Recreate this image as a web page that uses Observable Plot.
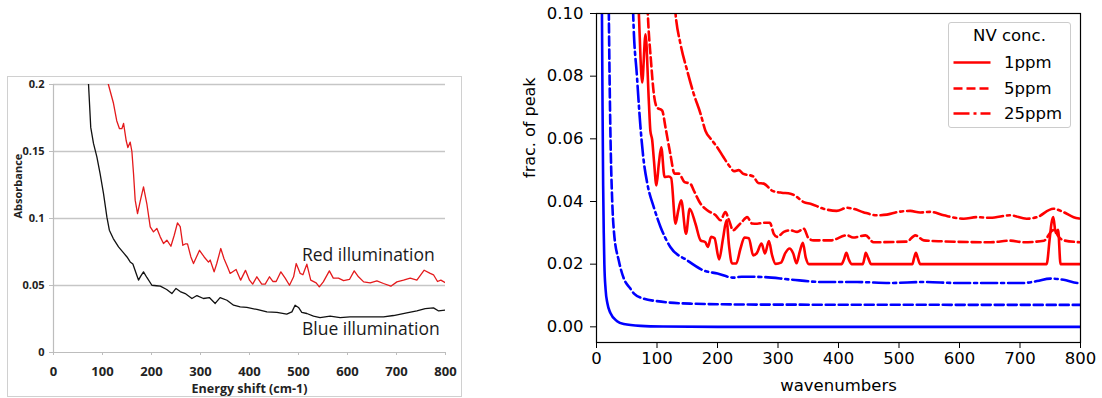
<!DOCTYPE html>
<html><head><meta charset="utf-8">
<script src="https://cdn.jsdelivr.net/npm/d3@7"></script>
<script src="https://cdn.jsdelivr.net/npm/@observablehq/plot@0.6"></script>
<style>
body{margin:0;background:#fff;}
#wrap{position:relative;width:1102px;height:398px;overflow:hidden;background:#fff;}
#left{position:absolute;left:7px;top:76px;width:453px;height:319px;border:1px solid #d0d0d0;}
#left svg{position:absolute;left:0;top:0;}
#right{position:absolute;left:500px;top:0;}
#right svg{display:block;}
#legend{position:absolute;left:948px;top:22px;width:121px;height:104px;border:1px solid #cccccc;border-radius:3px;background:rgba(255,255,255,0.85);font-family:"DejaVu Sans";font-size:16.5px;color:#000;}
#legend .t{position:absolute;left:0;width:121px;top:3px;line-height:19px;text-align:center;}
#legend .row{position:absolute;left:4px;height:18px;}
#legend .row svg{position:absolute;left:0;top:0;}
#legend .row span{position:absolute;left:51px;top:0;line-height:19px;white-space:nowrap;}
</style></head>
<body><div id="wrap"><div id="left"></div><div id="right"></div><div id="legend"></div></div>
<script>
// ---------- Left panel (measured absorbance) ----------
const leftXTicks = [0,100,200,300,400,500,600,700,800];
const leftYTicks = [0,0.05,0.1,0.15,0.2];
const leftYTickLabels = ["0","0.05","0.1","0.15","0.2"];
const leftGrid = [0.05,0.1,0.15,0.2];
const leftXLabel = "Energy shift (cm-1)";
const leftYLabel = "Absorbance";
const redLabel = "Red illumination";
const blueLabel = "Blue illumination";
const blueIllum = [[68,0.23],[71.5,0.2],[76,0.168],[81.6,0.156],[88.5,0.146],[95,0.1336],[102,0.1187],[109,0.101],[114,0.0913],[122,0.085],[132.7,0.0788],[143,0.0743],[150,0.0713],[156.5,0.0676],[162,0.066],[170,0.0577],[173.5,0.054],[178,0.057],[183.7,0.0602],[190.5,0.056],[200.8,0.0502],[210,0.0498],[218,0.0495],[231,0.047],[241.6,0.044],[250,0.0478],[258.6,0.0455],[268.8,0.044],[282.5,0.0403],[292.7,0.0425],[306,0.0403],[318,0.041],[330,0.0366],[340,0.041],[354,0.039],[367.5,0.0353],[381,0.034],[394.6,0.0336],[415,0.0321],[435.5,0.0303],[456,0.03],[476,0.0286],[486.5,0.0303],[493,0.0353],[500,0.0336],[506.7,0.03],[517,0.0291],[530.6,0.0271],[544,0.0261],[564.6,0.0271],[585,0.0261],[605,0.0266],[639.5,0.0266],[673.5,0.0266],[694,0.0276],[721,0.0296],[741.6,0.031],[758.6,0.0328],[775.5,0.0333],[786,0.031],[800,0.0316]];
const redIllum = [[109,0.21],[112,0.2],[117,0.1933],[122.4,0.186],[129,0.173],[134.7,0.167],[139.5,0.167],[143,0.171],[148.4,0.158],[151.8,0.153],[156.5,0.157],[160,0.15],[163.3,0.1336],[166.7,0.1137],[171.5,0.1037],[177,0.113],[183.7,0.1236],[190.5,0.111],[197.4,0.0937],[204,0.09],[211,0.0925],[217.8,0.0863],[224.5,0.0813],[231.4,0.0838],[239.6,0.0793],[246.4,0.0875],[253,0.0967],[258.6,0.094],[264,0.08],[268.8,0.081],[273.5,0.081],[280.4,0.0713],[285.7,0.0664],[298,0.0763],[307.5,0.0713],[316.3,0.0675],[319.7,0.069],[327.8,0.0602],[333.2,0.0664],[341.4,0.0776],[348,0.07],[355,0.064],[360.5,0.059],[372.6,0.062],[382,0.054],[391.8,0.0613],[400,0.054],[406.5,0.051],[415,0.0565],[425,0.051],[432,0.051],[440.8,0.0565],[447.6,0.053],[454.4,0.053],[464,0.0602],[472.8,0.0555],[481.6,0.0502],[490,0.0565],[495.3,0.0664],[503.5,0.059],[509,0.058],[517,0.0659],[525,0.054],[536,0.052],[542.5,0.049],[550.6,0.0527],[563,0.0609],[571,0.0555],[581.6,0.0555],[592,0.0537],[604,0.0545],[613.7,0.0609],[622.4,0.0565],[633,0.0527],[646.3,0.052],[660,0.0535],[673.5,0.0515],[688.5,0.0495],[700.8,0.0527],[714.3,0.054],[728,0.0555],[741.6,0.054],[756.5,0.0614],[768.8,0.059],[775.5,0.058],[783.7,0.053],[790.5,0.054],[800,0.052]];
const leftAnnotations = [{x:507,y:0.0726,text:redLabel},{x:507,y:0.0174,text:blueLabel}];

// ---------- Right panel (model) ----------
const rightXTicks = [0,100,200,300,400,500,600,700,800];
const rightYTicks = [0,0.02,0.04,0.06,0.08,0.10];
const rightXLabel = "wavenumbers";
const rightYLabel = "frac. of peak";
const legendTitle = "NV conc.";
const legendLabels = ["1ppm","5ppm","25ppm"];
const blueSolid = [[7,0.16],[9,0.1],[10,0.07],[11,0.045],[12,0.03],[13,0.02],[15,0.012],[18,0.0075],[23,0.0044],[34,0.0018],[45,0.0009],[73,0.0003],[110,0.0001],[200,0],[800,0]];
const blueDashed = [[19,0.13],[20.4,0.1],[23,0.062],[26,0.04],[29,0.03],[37,0.021],[45,0.0155],[56,0.0122],[62,0.0106],[78,0.009],[100,0.0082],[155,0.0074],[265,0.0071],[800,0.007]];
const blueDashDot = [[58,0.12],[60.6,0.1],[67,0.0796],[72.7,0.0637],[78,0.053],[84,0.0457],[95,0.038],[106,0.0318],[122,0.0255],[150,0.0212],[177,0.018],[200,0.017],[227,0.0157],[240,0.016],[276,0.0159],[320,0.0151],[375,0.0143],[431,0.0143],[486,0.014],[541,0.0143],[596,0.014],[651,0.014],[706,0.014],[728,0.0146],[750,0.0154],[772,0.015],[796,0.014],[800,0.014]];
const redSolid = [[67,0.115],[70,0.1],[75.5,0.078],[81,0.0934],[86.5,0.072],[89,0.0626],[92,0.0597],[95,0.053],[99,0.0451],[103,0.052],[107,0.0573],[112.5,0.0478],[119.5,0.048],[123.4,0.0475],[130.6,0.0329],[135,0.037],[140,0.0404],[148,0.0297],[154,0.0377],[163.6,0.0329],[172,0.0276],[180,0.027],[184,0.0255],[189.5,0.0287],[195,0.0283],[202.7,0.0215],[209,0.028],[214.9,0.034],[219,0.026],[224,0.0202],[231,0.0202],[238,0.025],[244.6,0.0285],[251.8,0.0283],[259,0.0228],[265,0.0235],[272.7,0.0266],[278.4,0.0234],[285,0.0274],[290,0.023],[296,0.0201],[305,0.0205],[312,0.0235],[319,0.025],[325,0.0235],[330.6,0.0203],[336,0.024],[341,0.0268],[346,0.022],[351,0.02],[405,0.02],[409,0.0215],[413,0.0236],[417,0.0215],[422,0.02],[440,0.02],[443,0.022],[445,0.0236],[449,0.022],[454,0.02],[522,0.02],[525,0.022],[528,0.0236],[531,0.022],[535,0.02],[744,0.02],[749,0.028],[752,0.033],[755,0.035],[759,0.03],[763,0.031],[767,0.02],[800,0.02]];
const redDashed = [[82,0.115],[84.8,0.1],[90,0.085],[94.8,0.0743],[100,0.07],[108.6,0.069],[114,0.0637],[122,0.0552],[129,0.0489],[136,0.0489],[145.5,0.0462],[155,0.0457],[160.8,0.0435],[172,0.0393],[183,0.0372],[197,0.0356],[205,0.034],[213,0.0366],[219,0.034],[225.9,0.0308],[232,0.0318],[240,0.0334],[249,0.035],[257,0.033],[265.6,0.0329],[276.5,0.0332],[286.5,0.0332],[293,0.0297],[298.7,0.0287],[309.6,0.0303],[320.6,0.0308],[331.6,0.0303],[342.6,0.0313],[351,0.0281],[359,0.0276],[386.8,0.0276],[414,0.0292],[424,0.0285],[444.6,0.0292],[458,0.027],[513,0.0272],[527,0.0292],[541,0.0276],[570,0.0273],[651,0.027],[684,0.0275],[706,0.027],[739.7,0.0275],[752,0.0305],[757,0.031],[763,0.029],[772,0.0276],[800,0.027]];
const redDashDot = [[125,0.115],[130.6,0.1],[138.8,0.0903],[150,0.0817],[160.8,0.0743],[172,0.068],[180,0.0626],[191,0.0595],[199.6,0.0573],[210,0.0541],[221,0.051],[227,0.0497],[235,0.05],[242,0.0489],[259,0.048],[267.4,0.0459],[276.5,0.0457],[290,0.0435],[298.7,0.043],[306,0.0428],[320.6,0.0425],[331.6,0.0414],[342.6,0.0398],[353.7,0.0393],[375,0.0377],[397,0.037],[414,0.038],[424,0.0377],[441,0.0366],[463,0.0356],[480,0.0358],[496.7,0.0366],[518.7,0.037],[535,0.0365],[552,0.0367],[574,0.0356],[607,0.0345],[628,0.035],[651,0.0348],[684,0.0356],[711,0.0345],[728,0.035],[755,0.0377],[772,0.0366],[788.6,0.035],[800,0.0345]];

// ---------- Left chart ----------
const leftFont = "'Open Sans', 'Liberation Sans', sans-serif";
const gray = "#bdbdbd";
const left = Plot.plot({
  width: 453, height: 319,
  marginLeft: 45, marginRight: 16, marginTop: 7, marginBottom: 44,
  style: {fontFamily: leftFont, fontWeight: "bold", color: "#222", background: "transparent"},
  x: {domain: [0, 800]},
  y: {domain: [0, 0.2]},
  marks: [
    Plot.ruleY(leftGrid, {stroke: "#c6c6c6", strokeWidth: 1.3}),
    Plot.ruleX([0], {stroke: gray, strokeWidth: 1.2}),
    Plot.ruleY([0], {stroke: gray, strokeWidth: 1.2}),
    Plot.axisX({ticks: leftXTicks, tickSize: 3, tickPadding: 11, stroke: gray, fontSize: 13, fontWeight: "bold", fill: "#222", label: null, tickFormat: d => String(d)}),
    Plot.axisY({ticks: leftYTicks, tickSize: 4, tickPadding: 5, stroke: gray, fontSize: 11, fontWeight: "bold", fill: "#222", label: null, tickFormat: (d, i) => leftYTickLabels[i]}),
    Plot.line(blueIllum, {x: d => d[0], y: d => d[1], stroke: "#111", strokeWidth: 1.3, clip: true}),
    Plot.line(redIllum, {x: d => d[0], y: d => d[1], stroke: "#e41a1c", strokeWidth: 1.3, clip: true}),
    Plot.text(leftAnnotations, {x: "x", y: "y", text: "text", textAnchor: "start", lineAnchor: "middle", fontSize: 17.5, fontWeight: "normal", fill: "#1a1a1a", fontFamily: leftFont}),
    Plot.text([leftXLabel], {frameAnchor: "bottom", dy: 36, lineAnchor: "middle", fontSize: 12.5, fontWeight: "bold", fill: "#222"}),
    Plot.text([leftYLabel], {frameAnchor: "left", dx: -35, rotate: -90, lineAnchor: "middle", fontSize: 11, fontWeight: "bold", fill: "#222"})
  ]
});
document.getElementById("left").appendChild(left);

// ---------- Right chart ----------
const R = "#ff0000", B = "#0000ff";
const lw = 2.6;
const dashed = "9,4";
const dashdot = "16,4,3,4";
function ln(data, color, dash) {
  return Plot.line(data, {x: d => d[0], y: d => d[1], stroke: color, strokeWidth: lw, strokeDasharray: dash, curve: "monotone-x", clip: true});
}
const right = Plot.plot({
  width: 602, height: 398,
  marginLeft: 96, marginRight: 22, marginTop: 13, marginBottom: 56,
  style: {fontFamily: "'DejaVu Sans', sans-serif", fontSize: "16.5px", color: "#000", background: "transparent"},
  x: {domain: [0, 800]},
  y: {domain: [-0.005, 0.1]},
  marks: [
    ln(blueSolid, B, null),
    ln(blueDashed, B, dashed),
    ln(blueDashDot, B, dashdot),
    ln(redSolid, R, null),
    ln(redDashed, R, dashed),
    ln(redDashDot, R, dashdot),
    Plot.frame({stroke: "#000", strokeWidth: 1.2}),
    Plot.axisX({ticks: rightXTicks, tickSize: 6, tickPadding: 3.5, fontSize: 16.5, label: null, tickFormat: d => String(d)}),
    Plot.axisY({ticks: rightYTicks, tickSize: 6, tickPadding: 7, fontSize: 16.5, label: null, tickFormat: d3.format(".2f")}),
    Plot.text([rightXLabel], {frameAnchor: "bottom", dy: 43, lineAnchor: "middle", fontSize: 16.5, fill: "#000"}),
    Plot.text([rightYLabel], {frameAnchor: "left", dx: -67, rotate: -90, lineAnchor: "middle", fontSize: 16, fill: "#000"})
  ]
});
document.getElementById("right").appendChild(right);

// ---------- Legend ----------
const lg = document.getElementById("legend");
const t = document.createElement("div"); t.className = "t"; t.textContent = legendTitle; lg.appendChild(t);
const dashes = [null, dashed, dashdot];
const rowTops = [30, 56, 81];
legendLabels.forEach((lab, i) => {
  const row = document.createElement("div"); row.className = "row"; row.style.top = rowTops[i] + "px";
  row.innerHTML = `<svg width="40" height="18"><line x1="0.5" x2="37.5" y1="9.5" y2="9.5" stroke="${R}" stroke-width="${lw}" ${dashes[i] ? `stroke-dasharray="${dashes[i]}"` : ""}/></svg><span>${lab}</span>`;
  lg.appendChild(row);
});
</script></body></html>
